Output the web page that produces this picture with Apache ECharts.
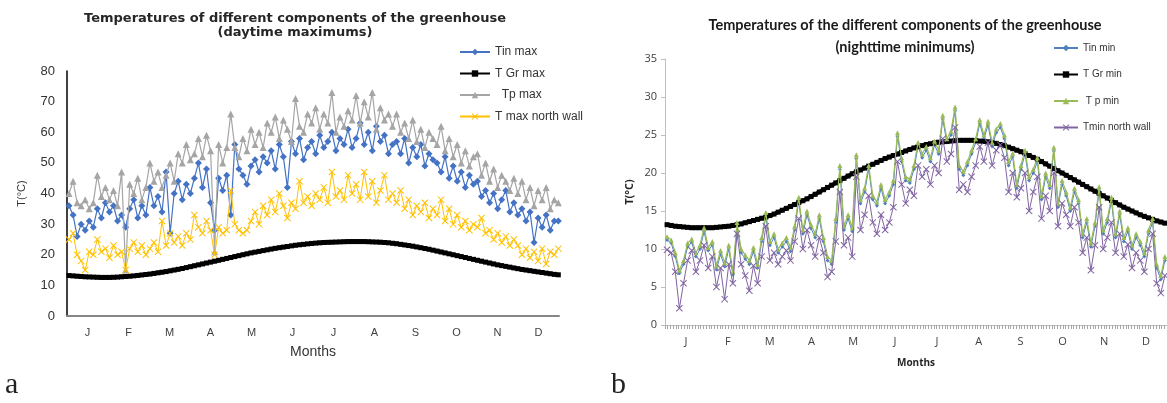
<!DOCTYPE html>
<html><head><meta charset="utf-8">
<script src="https://cdn.jsdelivr.net/npm/echarts@6/dist/echarts.min.js"></script>
<style>html,body{margin:0;padding:0;background:#fff}#c{width:1167px;height:403px}</style>
</head><body><div id="c"></div>
<script>
const months = ['J','F','M','A','M','J','J','A','S','O','N','D'];
const yTicksA = [0,10,20,30,40,50,60,70,80];
const yTicksB = [0,5,10,15,20,25,30,35];
// one value every 3 days (day = 3*i + 1.5)
const tinMax = [36,33,26,30,28,31,29,35,32,37, 34,36,31,33,29,35,38,32,36,33, 42,36,39,34,47,27,40,44,38,43, 40,45,50,42,48,37,28,45,41,46, 33,56,48,46,43,49,51,47,52,50,
 54,48,56,52,42,57,53,58,51,55,57, 53,59,55,57,60,54,58,56,61,55, 58,63,56,60,54,62,57,59,53,56,
 57,53,58,50,55,52,56,49,53,51, 50,47,52,45,49,44,47,42,46,43, 44,39,41,37,40,35,38,41,34,37, 33,35,31,34,24,32,29,33,28,31,31];
const tpMax = [40,44,37,36,38,35,37,46,39,42, 38,41,36,47,15,43,40,45,38,42, 50,44,47,42,46,50,44,53,50,56, 51,53,58,52,59,54,21,56,50,55, 66,55,52,58,54,61,56,60,55,63,
 60,65,58,64,61,57,71,62,60,66,63, 68,61,66,63,73,60,65,62,67,64, 72,63,70,65,73,61,68,64,66,62,
 66,60,63,58,64,57,61,55,60,58, 56,62,54,58,52,56,50,54,49,52, 53,46,50,44,48,42,46,44,41,45, 40,44,38,42,36,41,38,42,35,38,37];
const wallMax = [25,27,20,18,15,21,20,25,21,22, 19,23,20,21,15,22,24,21,23,20, 22,24,21,31,23,27,24,26,23,27, 25,33,29,27,31,28,20,29,27,28, 41,30,28,27,28,31,34,30,36,33,
 38,34,40,36,32,37,35,44,37,39,36, 40,38,42,37,47,39,41,38,46,40, 43,38,47,39,44,37,41,46,38,40,
 37,41,35,38,33,36,34,37,32,35, 33,38,31,35,30,33,29,31,28,30, 29,32,27,28,25,27,24,26,23,25, 23,20,22,19,21,18,22,17,21,20,22];
const grMax = [13.2,13.1,13.0,12.9,12.8,12.75,12.7,12.65,12.6,12.6, 12.6,12.65,12.7,12.8,12.9,13.0,13.1,13.25,13.4,13.55,
 13.7,13.9,14.1,14.3,14.5,14.75,15.0,15.25,15.5,15.8, 16.1,16.4,16.7,17.0,17.3,17.6,17.9,18.2,18.5,18.8,
 19.1,19.4,19.7,20.0,20.3,20.6,20.85,21.1,21.35,21.6, 21.85,22.1,22.3,22.5,22.7,22.9,23.1,23.25,23.4,23.55,
 23.7,23.8,23.9,24.0,24.05,24.1,24.15,24.2,24.25,24.3, 24.3,24.3,24.3,24.3,24.25,24.2,24.15,24.1,24.0,23.9,
 23.75,23.6,23.4,23.2,23.0,22.8,22.55,22.3,22.05,21.8, 21.5,21.2,20.9,20.6,20.3,20.0,19.7,19.4,19.1,18.8,
 18.5,18.2,17.9,17.6,17.3,17.0,16.7,16.45,16.2,15.95, 15.7,15.45,15.2,15.0,14.8,14.6,14.4,14.2,14.0,13.8,13.6,13.45];
const tinMin = [11.2,10.8,9.0,6.8,8.0,10.3,10.9,9.0,10.0,12.3, 9.8,10.5,7.3,9.3,7.7,10.0,6.6,13.0,9.5,8.7,
 8.0,9.7,7.5,11.0,14.3,10.5,11.5,9.5,10.3,11.0, 9.7,12.5,16.3,12.0,14.5,12.7,11.5,14.0,11.0,8.5,
 8.0,13.5,20.5,12.5,14.0,12.3,21.9,16.0,17.5,20.5, 16.5,15.7,18.0,16.0,17.0,18.5,24.8,21.5,19.0,18.7,20.5,
 23.5,22.0,23.0,21.5,23.7,22.5,27.1,24.0,25.0,28.2, 20.5,19.7,21.0,22.5,24.0,26.5,24.5,26.3,23.5,25.3,
 26.0,24.5,21.0,22.1,18.0,20.5,22.5,19.0,20.0,21.5, 16.5,19.5,18.0,22.9,15.5,18.5,17.0,15.0,17.5,16.0,
 11.5,13.5,10.3,13.0,17.7,12.0,13.5,16.3,11.5,14.5, 11.0,12.3,10.0,11.5,10.5,9.0,12.0,13.5,7.5,6.0,8.5];
const grMin = [13.2,13.1,13.0,12.95,12.9,12.85,12.8,12.8,12.8,12.8, 12.8,12.8,12.85,12.9,12.95,13.0,13.1,13.2,13.3,13.45,
 13.6,13.75,13.9,14.05,14.2,14.4,14.6,14.85,15.1,15.35, 15.6,15.85,16.1,16.35,16.6,16.9,17.2,17.5,17.8,18.1,
 18.4,18.7,19.0,19.3,19.6,19.9,20.15,20.4,20.65,20.9, 21.15,21.4,21.65,21.9,22.1,22.3,22.5,22.7,22.9,23.1,
 23.3,23.45,23.6,23.75,23.85,23.95,24.05,24.1,24.15,24.2, 24.25,24.3,24.3,24.3,24.3,24.25,24.2,24.15,24.1,24.0,
 23.9,23.75,23.6,23.4,23.2,23.0,22.8,22.55,22.3,22.05, 21.8,21.5,21.2,20.9,20.6,20.3,20.0,19.7,19.4,19.1,
 18.8,18.5,18.2,17.9,17.6,17.3,17.0,16.7,16.4,16.1, 15.8,15.5,15.25,15.0,14.75,14.5,14.3,14.1,13.9,13.7,13.55,13.4];
const tpMin = [11.6,11.2,9.5,7.2,8.5,10.8,11.3,9.5,10.5,12.8, 10.2,11.0,7.8,9.8,8.2,10.5,7.0,13.5,10.0,9.2,
 8.5,10.2,8.0,11.5,14.8,11.0,12.0,10.0,10.8,11.5, 10.2,13.0,16.8,12.5,15.0,13.2,12.0,14.5,11.5,9.0,
 8.5,14.0,21.0,13.0,14.5,12.8,22.4,16.5,18.0,21.0, 17.0,16.2,18.5,16.5,17.5,19.0,25.3,22.0,19.5,19.2,21.0,
 24.0,22.5,23.5,22.0,24.2,23.0,27.6,24.5,25.5,28.7, 21.0,20.2,21.5,23.0,24.5,27.0,25.0,26.8,24.0,25.8,
 26.5,25.0,21.5,22.6,18.5,21.0,23.0,19.5,20.5,22.0, 17.0,20.0,18.5,23.4,16.0,19.0,17.5,15.5,18.0,16.5,
 12.0,14.0,10.8,13.5,18.2,12.5,14.0,16.8,12.0,15.0, 11.5,12.8,10.5,12.0,11.0,9.5,12.5,14.0,8.0,6.5,9.0];
const wallMin = [9.9,9.5,7.0,2.2,5.5,8.5,9.8,7.0,8.5,10.5, 7.5,9.0,5.0,7.5,3.4,8.0,5.5,12.0,8.0,6.5,
 4.5,7.8,5.5,9.0,13.0,8.5,9.5,8.0,9.0,9.8, 8.5,11.0,14.0,10.0,12.5,10.5,9.0,11.5,9.5,6.3,
 7.0,11.0,17.5,10.5,11.5,9.0,19.5,12.5,14.5,17.0, 13.5,12.0,14.5,12.5,13.5,15.5,21.5,18.5,16.0,17.8,17.0,
 21.0,19.5,20.5,18.5,21.0,20.0,24.5,21.5,22.5,26.0, 17.8,18.5,17.5,19.5,21.0,23.5,21.5,24.0,21.0,23.0,
 23.7,22.0,17.5,20.0,16.8,18.0,20.0,15.0,17.5,19.5, 14.0,17.0,15.0,20.0,13.0,16.0,14.5,13.0,15.5,13.5,
 9.5,11.5,7.2,10.5,15.5,10.0,11.5,13.5,9.5,12.0, 9.0,10.6,7.5,9.5,8.5,7.0,10.0,12.0,5.5,4.2,6.5];

const toXY = arr => arr.map((v, i) => [3 * i + 1.5, v]);
const XSYM = 'path://M0,1L1,0L5,4L9,0L10,1L6,5L10,9L9,10L5,6L1,10L0,9L4,5Z';
const fA = '"Liberation Sans", Arial, sans-serif';
const fB = '"Open Sans", sans-serif';

function line(name, data, xi, yi, color, symbol, size, lw, z) {
  return { name, type: 'line', data: toXY(data), xAxisIndex: xi, yAxisIndex: yi,
    symbol, symbolSize: size, showSymbol: true, z: z,
    lineStyle: { color, width: lw }, itemStyle: { color, borderWidth: 0 } };
}

const chart = echarts.init(document.getElementById('c'), null, { renderer: 'canvas' });
chart.setOption({
  animation: false,
  backgroundColor: '#fff',
  title: [
    { text: 'Temperatures of different components of the greenhouse\n(daytime maximums)',
      left: 290, top: 7, textAlign: 'center',
      textStyle: { fontFamily: '"DejaVu Sans", sans-serif', fontWeight: 'bold', fontSize: 13, lineHeight: 14, color: '#262626' } },
    { text: 'Temperatures of the different components of the greenhouse\n(nighttime minimums)',
      left: 900, top: 9, textAlign: 'center',
      textStyle: { fontFamily: 'Lato, sans-serif', fontWeight: 'bold', fontSize: 14.5, lineHeight: 22, color: '#1a1a1a' } }
  ],
  legend: [
    { data: ['Tin max', 'T Gr max', '  Tp max', 'T max north wall'], orient: 'vertical', left: 454, top: 41,
      itemWidth: 30, itemHeight: 8, itemGap: 9.5,
      textStyle: { fontFamily: fA, fontSize: 12, color: '#333' } },
    { data: ['Tin min', 'T Gr min', ' T p min', 'Tmin north wall'], orient: 'vertical', left: 1048, top: 38,
      itemWidth: 24, itemHeight: 8, itemGap: 16.5,
      textStyle: { fontFamily: fA, fontSize: 10, color: '#333' } }
  ],
  grid: [
    { left: 67, top: 71, width: 492, height: 245 },
    { left: 665, top: 59, width: 505, height: 266 }
  ],
  xAxis: [
    { type: 'category', gridIndex: 0, data: months, position: 'bottom', boundaryGap: true,
      axisLine: { lineStyle: { color: '#868686', width: 2 } }, axisTick: { show: false },
      axisLabel: { fontFamily: fA, fontSize: 11, color: '#404040', margin: 11 },
      name: 'Months', nameLocation: 'middle', nameGap: 29,
      nameTextStyle: { fontFamily: fA, fontSize: 14, color: '#333' } },
    { type: 'value', gridIndex: 0, min: 0, max: 365, show: false, position: 'bottom' },
    { type: 'category', gridIndex: 1, data: months, position: 'bottom', boundaryGap: true,
      axisLine: { lineStyle: { color: '#bfbfbf', width: 1 } }, axisTick: { show: false },
      axisLabel: { fontFamily: fB, fontSize: 11, color: '#404040', margin: 11 },
      name: 'Months', nameLocation: 'middle', nameGap: 33,
      nameTextStyle: { fontFamily: fB, fontSize: 10, fontWeight: 'bold', color: '#262626' } },
    { type: 'value', gridIndex: 1, min: 0, max: 366, interval: 2, position: 'bottom',
      axisLine: { show: false }, axisLabel: { show: false }, splitLine: { show: false },
      axisTick: { show: true, length: 4, lineStyle: { color: '#a6a6a6', width: 1 } } }
  ],
  yAxis: [
    { type: 'value', gridIndex: 0, min: 0, max: 80, interval: 10,
      axisLine: { show: true, lineStyle: { color: '#000', width: 1.5 } }, axisTick: { show: false },
      splitLine: { show: false },
      axisLabel: { fontFamily: fA, fontSize: 13, color: '#333', margin: 12 },
      name: 'T(°C)', nameLocation: 'middle', nameRotate: 90, nameGap: 40,
      nameTextStyle: { fontFamily: fA, fontSize: 11, color: '#333' } },
    { type: 'value', gridIndex: 1, min: 0, max: 35, interval: 5,
      axisLine: { show: true, lineStyle: { color: '#bfbfbf', width: 1 } },
      axisTick: { show: true, length: 4, lineStyle: { color: '#bfbfbf' } },
      splitLine: { show: false },
      axisLabel: { fontFamily: fB, fontSize: 11, color: '#404040', margin: 8 },
      name: 'T(°C)', nameLocation: 'middle', nameRotate: 90, nameGap: 30,
      nameTextStyle: { fontFamily: fB, fontSize: 11, fontWeight: 'bold', color: '#262626' } }
  ],
  graphic: [
    { type: 'text', left: 5, top: 370, style: { text: 'a', font: '30px "Liberation Serif", serif', fill: '#222' } },
    { type: 'text', left: 611, top: 370, style: { text: 'b', font: '30px "Liberation Serif", serif', fill: '#222' } }
  ],
  series: [
    line('Tin max', tinMax, 1, 0, '#4472C4', 'diamond', 7, 1.2, 2),
    line('T Gr max', grMax, 1, 0, '#000000', 'rect', 5, 4, 3),
    line('  Tp max', tpMax, 1, 0, '#A5A5A5', 'triangle', 7, 1.2, 4),
    line('T max north wall', wallMax, 1, 0, '#FFC000', XSYM, 7, 1, 5),
    line('Tin min', tinMin, 3, 1, '#4F81BD', 'diamond', 4, 1, 2),
    line('T Gr min', grMin, 3, 1, '#000000', 'rect', 5, 4, 3),
    line(' T p min', tpMin, 3, 1, '#9BBB59', 'triangle', 5, 1.2, 4),
    line('Tmin north wall', wallMin, 3, 1, '#8064A2', XSYM, 7, 1, 5)
  ]
});
</script></body></html>
